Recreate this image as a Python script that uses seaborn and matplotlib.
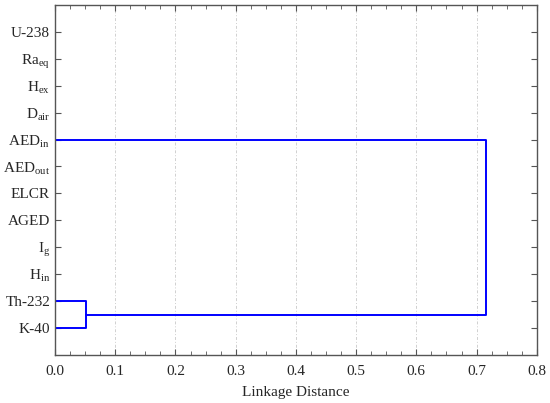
import numpy as np
import pandas as pd
import matplotlib
matplotlib.use("Agg")
import matplotlib.pyplot as plt
import seaborn as sns

# leaves, top to bottom
leaves = ["U-238", r"Ra$_{\mathrm{eq}}$", r"H$_{\mathrm{ex}}$", r"D$_{\mathrm{air}}$",
          r"AED$_{\mathrm{in}}$", r"AED$_{\mathrm{out}}$", "ELCR", "AGED",
          r"I$_{\mathrm{g}}$", r"H$_{\mathrm{in}}$", "Th-232", "K-40"]

# links: upper leaf row, lower leaf row, start distance of upper, start distance of lower, merge distance
link_top = [11, 5]
link_bot = [12, 11.5]
link_top_from = [0.0, 0.0]
link_bot_from = [0.0, 0.052]
link_height = [0.052, 0.715]

sns.set_style("white")
plt.rcParams["font.family"] = ["Liberation Serif", "DejaVu Serif"]
plt.rcParams["mathtext.fontset"] = "custom"
plt.rcParams["mathtext.rm"] = "Liberation Serif"
plt.rcParams["mathtext.it"] = "Liberation Serif:italic"

fig = plt.figure(figsize=(5.5, 4.03), dpi=100)
ax = fig.add_axes([0.1, 0.119, 0.876, 0.869])

for t, b, tf, bf, h in zip(link_top, link_bot, link_top_from, link_bot_from, link_height):
    seg = pd.DataFrame({"x": [tf, h, h, bf], "y": [t, t, b, b]})
    sns.lineplot(data=seg, x="x", y="y", sort=False, estimator=None,
                 color="#0000ff", linewidth=1.4, ax=ax)

ax.set_xlim(0, 0.8)
ax.set_ylim(13, 0)
ax.set_xticks(np.arange(0, 0.81, 0.1))
ax.set_xticklabels([f"{v:.1f}" for v in np.arange(0, 0.81, 0.1)])
ax.set_xticks(np.arange(0, 0.801, 0.025), minor=True)
ax.set_yticks(range(1, len(leaves) + 1))
ax.set_yticklabels(leaves)
ax.tick_params(axis="both", which="both", direction="in", top=True, right=True,
               bottom=True, left=True, labelsize=11, color="#555555")
ax.tick_params(axis="both", which="major", length=4)
ax.tick_params(axis="x", which="minor", length=3)
ax.tick_params(axis="x", pad=7)
ax.set_xlabel("Linkage Distance", fontsize=11, labelpad=6)
ax.set_ylabel("")
ax.grid(axis="x", which="major", linestyle=(0, (3, 2, 1, 2)), color="#d0d0d0", linewidth=0.7)
ax.set_axisbelow(True)
for s in ax.spines.values():
    s.set_color("#555555")
    s.set_linewidth(1.0)

fig.savefig("out.png", dpi=100)
